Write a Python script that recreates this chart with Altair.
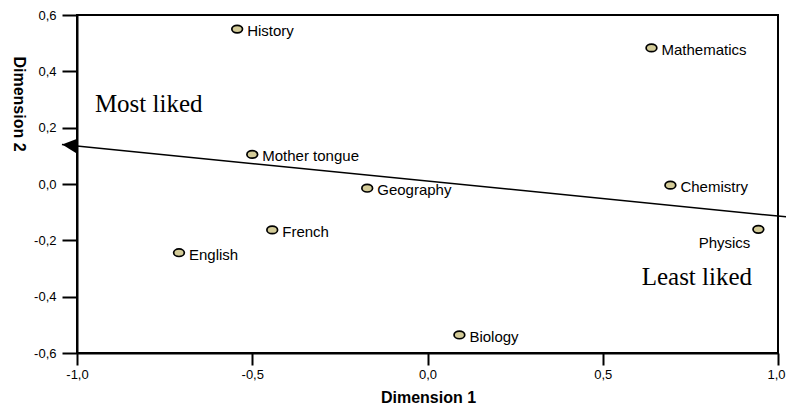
import altair as alt
import pandas as pd

subjects = ["History", "Mathematics", "Mother tongue", "Geography", "Chemistry",
            "Physics", "French", "English", "Biology"]
dim1 = [-0.543, 0.639, -0.500, -0.172, 0.693, 0.944, -0.443, -0.709, 0.091]
dim2 = [0.550, 0.483, 0.105, -0.015, -0.004, -0.161, -0.163, -0.244, -0.536]

arrow_x = [-1.043, 1.05]
arrow_y = [0.140, -0.120]
head_x = [-1.021]
head_y = [0.138]

notes = ["Most liked", "Least liked"]
note_x = [-0.949, 0.926]
note_y = [0.257, -0.358]

x_ticks = [-1.0, -0.5, 0.0, 0.5, 1.0]
y_ticks = [-0.6, -0.4, -0.2, 0.0, 0.2, 0.4, 0.6]

pts = pd.DataFrame({"subject": subjects, "d1": dim1, "d2": dim2})
arrow = pd.DataFrame({"d1": arrow_x, "d2": arrow_y, "o": [0, 1]})
head = pd.DataFrame({"d1": head_x, "d2": head_y})
note_df = pd.DataFrame({"t": notes, "d1": note_x, "d2": note_y})

label_expr = "(datum.value < 0 ? '-' : '') + replace(format(abs(datum.value), '.1f'), '.', ',')"

xscale = alt.Scale(domain=[-1, 1], nice=False, zero=False)
yscale = alt.Scale(domain=[-0.6, 0.6], nice=False, zero=False)

xaxis = alt.Axis(values=x_ticks, labelExpr=label_expr, title="Dimension 1",
                 tickSize=12, labelPadding=3, titleX=351, titleY=44,
                 labelAlign={"condition": {"test": "datum.value >= 1", "value": "right"},
                             "value": "center"},
                 labelOffset={"condition": {"test": "datum.value >= 1", "value": 7},
                              "value": 0})
yaxis = alt.Axis(values=y_ticks, labelExpr=label_expr, title="Dimension 2",
                 tickSize=15, labelPadding=6, titleX=-58.5, titleY=88.5, titleAngle=90)

X = alt.X("d1:Q", scale=xscale, axis=xaxis)
Y = alt.Y("d2:Q", scale=yscale, axis=yaxis)

line = alt.Chart(arrow).mark_line(color="black", strokeWidth=1.5).encode(
    x=X, y=Y, order="o:O")

tri = alt.Chart(head).mark_point(shape="M-1,0L1,-1L1,1Z", filled=True, color="black",
                                 size=225, angle=5.7, opacity=1).encode(x=X, y=Y)

ellipse = "M-1,0A1,0.7,0,1,0,1,0A1,0.7,0,1,0,-1,0Z"
points = alt.Chart(pts).mark_point(shape=ellipse, filled=True, fill="#d3cb98",
                                   stroke="black", strokeWidth=1.7, size=115,
                                   opacity=1).encode(x=X, y=Y)

labels = alt.Chart(pts).transform_filter(alt.datum.subject != "Physics").mark_text(
    align="left", baseline="middle", dx=10, dy=2, fontSize=15, font="Liberation Sans",
    color="black").encode(x=X, y=Y, text="subject:N")

phys = alt.Chart(pts).transform_filter(alt.datum.subject == "Physics").mark_text(
    align="right", baseline="middle", dx=-8, dy=14, fontSize=15, font="Liberation Sans",
    color="black").encode(x=X, y=Y, text="subject:N")

note_l = alt.Chart(note_df).transform_filter(alt.datum.t == "Most liked").mark_text(
    align="left", baseline="alphabetic", fontSize=25, font="Liberation Serif",
    color="black").encode(x=X, y=Y, text="t:N")
note_r = alt.Chart(note_df).transform_filter(alt.datum.t == "Least liked").mark_text(
    align="right", baseline="alphabetic", fontSize=25, font="Liberation Serif",
    color="black").encode(x=X, y=Y, text="t:N")

chart = alt.layer(line, tri, points, labels, phys, note_l, note_r).properties(
    width=701, height=338,
    autosize=alt.AutoSizeParams(type="none"),
    padding={"left": 69, "top": 7, "right": 8, "bottom": 57},
    background="white",
).configure_view(stroke="black", strokeWidth=2).configure_axis(
    grid=False, domainColor="black", domainWidth=2, tickColor="black", tickWidth=2,
    labelFontSize=13, labelColor="black", labelFont="Liberation Sans",
    titleFont="Liberation Sans", titleFontSize=16, titleFontWeight="bold",
    titleColor="black", titleBaseline="middle", titleAlign="center", labelFlush=False,
)

chart.save("out.html", embed_options={"renderer": "svg", "actions": False})
